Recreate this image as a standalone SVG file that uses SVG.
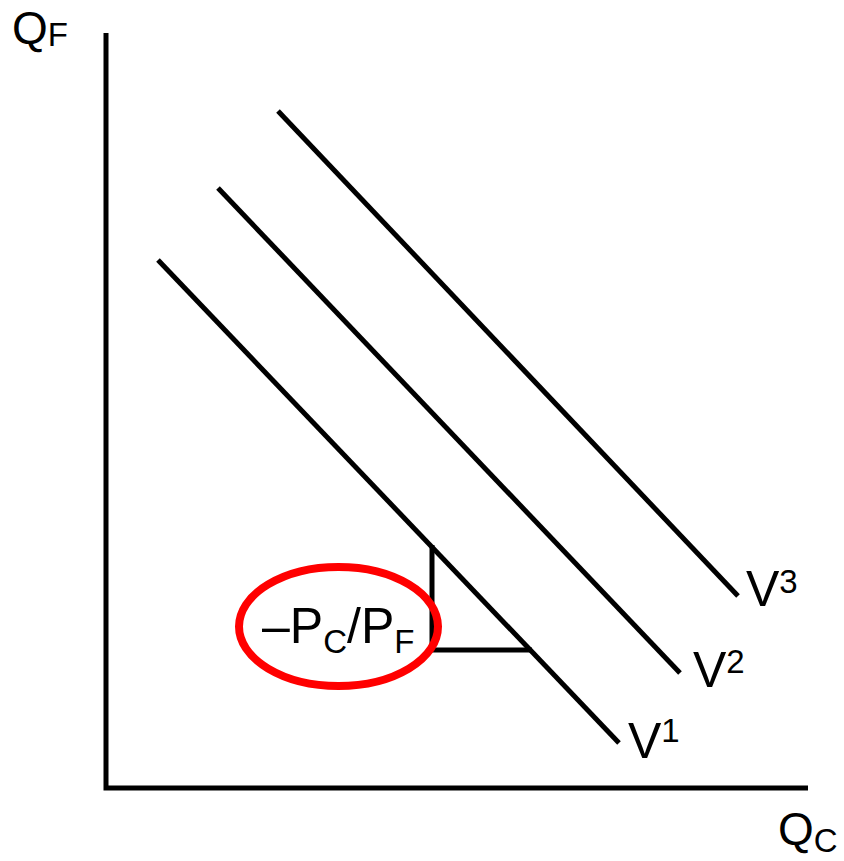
<svg xmlns="http://www.w3.org/2000/svg" width="844" height="861" viewBox="0 0 844 861">
<style>
.ln{stroke:#000;stroke-width:5;fill:none}
.t{font-family:"Liberation Sans",Arial,sans-serif;fill:#000}
.big{font-size:50px}
.sm{font-size:33px}
</style>
<rect width="844" height="861" fill="#fff"/>
<g id="axes">
<polyline class="ln" points="106,33 106,788 808,788" stroke-linejoin="miter"/>
<text class="t" x="12" y="44" font-size="46">Q<tspan class="sm" dy="2">F</tspan></text>
<text class="t" x="778" y="845" font-size="46">Q<tspan class="sm" dy="7">C</tspan></text>
</g>
<g id="connectors">
<line id="V1-line" class="ln" x1="158" y1="260" x2="619" y2="743"/>
<line id="V2-line" class="ln" x1="218" y1="188" x2="680" y2="673"/>
<line id="V3-line" class="ln" x1="278" y1="111" x2="738" y2="596"/>
<polyline id="slope-triangle" class="ln" points="432,545 432,650 532,650"/>
</g>
<g id="V1"><text class="t big" x="628" y="758">V<tspan class="sm" dy="-16">1</tspan></text></g>
<g id="V2"><text class="t big" x="693" y="687">V<tspan class="sm" dy="-14">2</tspan></text></g>
<g id="V3"><text class="t big" x="746" y="606">V<tspan class="sm" dy="-13">3</tspan></text></g>
<g id="slope-label">
<ellipse cx="338.5" cy="626.5" rx="99.5" ry="59.5" fill="none" stroke="#f00" stroke-width="8"/>
<text class="t big" x="262" y="643">–P<tspan class="sm" dy="10">C</tspan><tspan dy="-10">/P</tspan><tspan class="sm" dy="10">F</tspan></text>
</g>
</svg>
